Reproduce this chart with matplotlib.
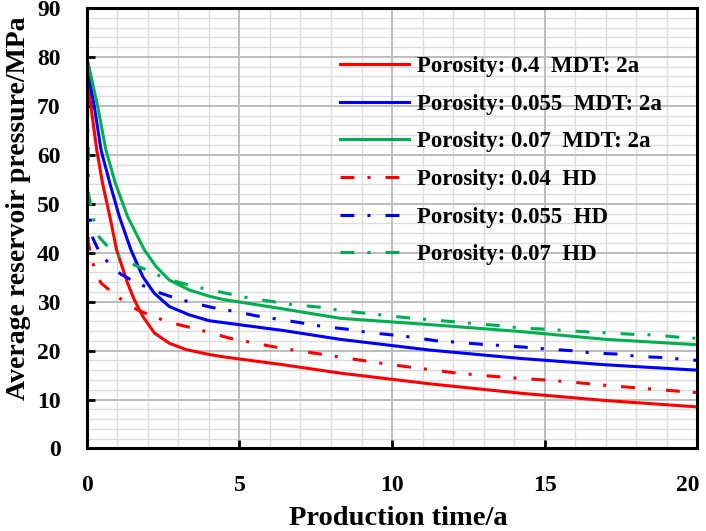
import matplotlib
matplotlib.use("Agg")
import matplotlib.pyplot as plt
import matplotlib.transforms as mtransforms
from matplotlib.ticker import MultipleLocator

plt.rcParams['font.family'] = ['Liberation Serif', 'DejaVu Serif']
plt.rcParams['font.weight'] = 'bold'
plt.rcParams['lines.scale_dashes'] = False

# ---- data ----
x_red_mdt = [0, 0.13, 0.32, 0.51, 0.75, 0.97, 1.33, 1.55, 1.83, 2.21, 2.70, 3.25, 4.01, 4.5, 5.34, 6.44, 8.3, 11.25, 14.2, 17.0, 20]
y_red_mdt = [76.7, 69.9, 61.0, 54.2, 47.4, 40.6, 33.8, 30.4, 27.0, 23.6, 21.5, 20.2, 19.2, 18.7, 18.0, 17.1, 15.4, 13.2, 11.3, 9.8, 8.5]

x_blue_mdt = [0, 0.24, 0.46, 0.75, 1.06, 1.44, 1.83, 2.21, 2.70, 3.35, 4.01, 5.34, 6.44, 8.3, 11.25, 14.2, 17.0, 20]
y_blue_mdt = [78.0, 69.9, 61.0, 54.2, 47.4, 40.6, 35.1, 31.7, 29.0, 27.3, 26.1, 25.0, 24.1, 22.3, 20.1, 18.4, 17.1, 16.0]

x_green_mdt = [0, 0.35, 0.62, 0.93, 1.33, 1.88, 2.26, 2.70, 3.35, 4.01, 4.5, 5.34, 6.44, 8.3, 11.25, 14.2, 17.0, 20]
y_green_mdt = [79.8, 69.9, 61.0, 54.2, 47.4, 40.6, 37.2, 34.4, 32.4, 31.1, 30.4, 29.6, 28.5, 26.6, 25.3, 23.9, 22.3, 21.2]

x_red_hd = [0, 0.04, 0.24, 0.46, 0.79, 1.22, 1.66, 2.04, 2.56, 3.0, 3.47, 4.01, 4.7, 5.43, 6.1, 6.87, 7.65, 8.35, 10, 11, 12, 13, 14, 15, 16, 17, 18, 19, 20]
y_red_hd = [80, 42.0, 36.8, 33.8, 32.1, 30.0, 28.3, 27.3, 26.1, 25.3, 24.6, 23.7, 22.5, 21.6, 20.8, 20.0, 19.3, 18.6, 17.1, 16.3, 15.5, 14.9, 14.4, 14.0, 13.5, 12.9, 12.4, 11.9, 11.4]

x_blue_hd = [0, 0.04, 0.19, 0.4, 0.73, 1.11, 1.5, 1.97, 2.43, 2.86, 3.38, 3.9, 4.34, 4.85, 5.55, 6.27, 7.0, 7.75, 8.5, 9.22, 10, 10.7, 11.45, 12.17, 12.9, 13.65, 14.35, 15.1, 15.85, 16.6, 17.35, 18.1, 18.8, 19.6, 20]
y_blue_hd = [80, 50.0, 43.0, 40.2, 37.7, 35.6, 34.3, 32.9, 31.7, 30.8, 29.9, 29.1, 28.5, 28.0, 27.1, 26.4, 25.7, 24.9, 24.4, 23.7, 23.2, 22.7, 22.0, 21.7, 21.3, 21.0, 20.7, 20.3, 20.0, 19.5, 19.3, 18.8, 18.6, 18.2, 18.0]

x_green_hd = [0, 0.05, 0.24, 0.4, 0.73, 1.15, 1.55, 1.99, 2.48, 3.03, 3.47, 3.88, 4.65, 5.34, 6.1, 6.82, 7.6, 8.3, 10.5, 11.25, 12.0, 12.72, 13.55, 14.2, 14.95, 15.7, 16.45, 17.1, 17.95, 18.6, 19.45, 20]
y_green_hd = [80, 52.0, 46.2, 43.2, 40.9, 38.9, 37.5, 36.4, 35.0, 33.9, 33.2, 32.6, 31.6, 30.7, 30.0, 29.3, 28.9, 28.2, 26.7, 26.3, 25.9, 25.5, 25.1, 24.6, 24.4, 24.1, 23.8, 23.6, 23.3, 23.2, 22.7, 22.5]

labels = ["Porosity: 0.4  MDT: 2a", "Porosity: 0.055  MDT: 2a", "Porosity: 0.07  MDT: 2a",
          "Porosity: 0.04  HD", "Porosity: 0.055  HD", "Porosity: 0.07  HD"]

x_ticks = [0, 5, 10, 15, 20]
y_ticks = [0, 10, 20, 30, 40, 50, 60, 70, 80, 90]

# ---- plot ----
fig = plt.figure(figsize=(7.06, 5.31), dpi=100)
ax = fig.add_axes([0.1232, 0.1554, 0.8641, 0.8296])

ax.set_xlim(0, 20)
ax.set_ylim(0, 90)
ax.set_xticks(x_ticks)
ax.set_yticks(y_ticks)
ax.xaxis.set_minor_locator(MultipleLocator(1))
ax.yaxis.set_minor_locator(MultipleLocator(2))

ax.tick_params(which='major', direction='in', length=6, width=2, labelsize=17, pad=19)
ax.tick_params(which='minor', direction='in', length=0)

# grid lines drawn at the axis' own tick locations
major_grid = dict(color='#bdbdbd', linewidth=1.4, zorder=0.6)
minor_grid = dict(color='#dcdcdc', linewidth=1.0, zorder=0.5)
for v in ax.xaxis.get_minorticklocs():
    ax.axvline(v, **minor_grid)
for v in ax.yaxis.get_minorticklocs():
    ax.axhline(v, **minor_grid)
for v in ax.get_xticks():
    ax.axvline(v, **major_grid)
for v in ax.get_yticks():
    ax.axhline(v, **major_grid)

red, blue, green = '#ff0000', '#0000ff', '#00b050'
lw = 2.2
dd = (0, (10, 9.4, 2.2, 10.8))
common = dict(lw=lw, solid_joinstyle='round', dash_joinstyle='round', zorder=3)

ax.plot(x_red_mdt, y_red_mdt, color=red, label=labels[0], **common)
ax.plot(x_blue_mdt, y_blue_mdt, color=blue, label=labels[1], **common)
ax.plot(x_green_mdt, y_green_mdt, color=green, label=labels[2], **common)
ax.plot(x_red_hd, y_red_hd, color=red, ls=dd, label=labels[3], **common)
ax.plot(x_blue_hd, y_blue_hd, color=blue, ls=dd, label=labels[4], **common)
ax.plot(x_green_hd, y_green_hd, color=green, ls=dd, label=labels[5], **common)

ax.set_xlim(0, 20)
ax.set_ylim(0, 90)

for s in ax.spines.values():
    s.set_linewidth(2.2)
    s.set_color('black')
    s.set_zorder(5)

for lab in ax.get_xticklabels() + ax.get_yticklabels():
    lab.set_fontweight('bold')
last = ax.get_xticklabels()[-1]
last.set_transform(last.get_transform() + mtransforms.ScaledTranslation(-7 / 72, 0, fig.dpi_scale_trans))

ax.set_xlabel("Production time/a", fontsize=20.5, fontweight='bold')
ax.set_ylabel("Average reservoir pressure/MPa", fontsize=20, fontweight='bold')
ax.xaxis.set_label_coords(0.51, -0.13)
ax.yaxis.set_label_coords(-0.092, 0.545)

leg = ax.legend(loc='upper left', bbox_to_anchor=(0.40, 0.911), frameon=False,
                prop={'size': 16.5, 'weight': 'bold'}, handlelength=3.0,
                handletextpad=0.35, labelspacing=0.72, borderaxespad=0)

fig.savefig("out.png", dpi=100)
